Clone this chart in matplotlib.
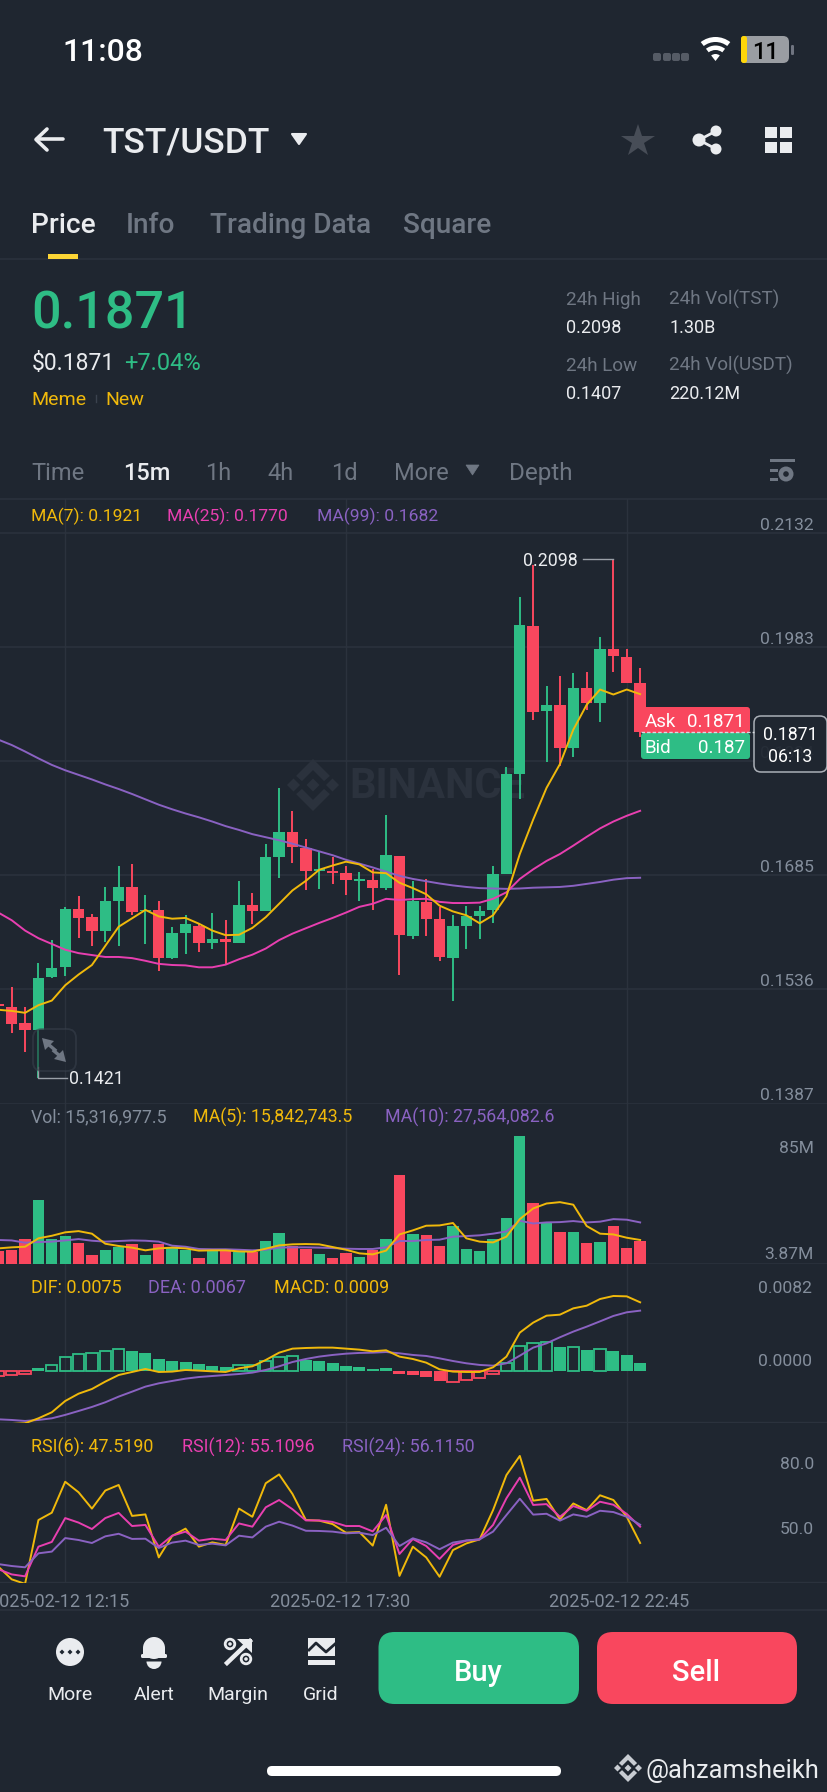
import matplotlib
matplotlib.use('Agg')
import matplotlib.pyplot as plt
from matplotlib.patches import FancyBboxPatch, Rectangle, Circle, Polygon, Wedge, Ellipse
import numpy as np

# candles, first one is cut by the left edge
candle_open = [.15170, .15130, .14920, .14835, .15520, .15650, .16415, .16305, .16120, .16520,
               .16705, .16390, .16405, .15775, .16100, .16195, .15970, .16015, .15970, .16465,
               .16380, .17090, .17415, .17215, .16910, .16905, .16885, .16780, .16785, .16690,
               .17105, .16065, .16505, .16275, .15775, .16195, .16315, .16400, .16870, .18180,
               .20115, .18995, .19080, .18510, .19295, .19100, .19815, .19705, .19365]
candle_close = [.15140, .14915, .14835, .15515, .15635, .16415, .16300, .16120, .16515, .16705,
                .16370, .16405, .15775, .16095, .16215, .15970, .16015, .15980, .16465, .16390,
                .17085, .17415, .17220, .16910, .16935, .16885, .16790, .16805, .16690, .17115,
                .16070, .16515, .16280, .15790, .16195, .16315, .16385, .16870, .18180, .20120,
                .18985, .19080, .18520, .19295, .19100, .19815, .19715, .19365, .18720]
candle_high = [.15180, .15395, .15130, .15705, .16005, .16435, .16580, .16345, .16700, .16970,
               .17000, .16590, .16515, .16175, .16330, .16215, .16355, .16265, .16775, .16615,
               .17255, .17995, .17690, .17325, .17155, .17095, .16970, .16895, .16930, .17645,
               .17105, .16775, .16805, .16440, .16330, .16445, .16445, .16980, .18265, .20495,
               .20905, .19320, .19455, .19490, .19505, .19965, .20980, .19805, .19555]
candle_low = [.15130, .14795, .14545, .14205, .15505, .15540, .16035, .15930, .15980, .15930,
              .16335, .15950, .15605, .15755, .15825, .15855, .15895, .15690, .15970, .16215,
              .16380, .16820, .17015, .16665, .16675, .16740, .16600, .16515, .16405, .16665,
              .15555, .16025, .16065, .15730, .15205, .15895, .16020, .16230, .16870, .17855,
              .18880, .18330, .18280, .18400, .19015, .18860, .19505, .19365, .18665]

ma7 = [.15095, .15080, .15055, .15155, .15215, .15415, .15555, .15680, .15930, .16180,
       .16290, .16400, .16315, .16285, .16295, .16220, .16130, .16070, .16075, .16165,
       .16305, .16480, .16655, .16780, .16925, .16980, .17030, .16995, .16890, .16880,
       .16755, .16685, .16605, .16455, .16380, .16330, .16225, .16330, .16580, .17130,
       .17580, .17995, .18305, .18755, .19080, .19280, .19215, .19280, .19220]
ma25 = [.16365, .16265, .16130, .16030, .15955, .15880, .15835, .15810, .15785, .15785,
        .15770, .15735, .15695, .15680, .15675, .15650, .15650, .15685, .15755, .15815,
        .15895, .16005, .16090, .16160, .16230, .16295, .16365, .16440, .16480, .16545,
        .16530, .16540, .16545, .16505, .16490, .16490, .16495, .16545, .16630, .16805,
        .16930, .17040, .17130, .17240, .17355, .17465, .17555, .17630, .17695]
ma99 = [.18625, .18555, .18470, .18380, .18295, .18225, .18165, .18105, .18040, .17980,
        .17915, .17845, .17775, .17715, .17660, .17610, .17555, .17495, .17445, .17390,
        .17350, .17310, .17265, .17215, .17165, .17115, .17055, .17005, .16955, .16900,
        .16845, .16805, .16775, .16745, .16720, .16700, .16685, .16680, .16675, .16680,
        .16690, .16695, .16700, .16715, .16740, .16765, .16795, .16815, .16820]

# volume in millions
volume = [8.6, 9.1, 16.6, 42.6, 16.8, 18.6, 14.2, 6.2, 9.1, 11.3, 13.1, 6.0, 13.1, 10.4, 9.5, 4.0,
          8.6, 8.4, 7.8, 7.8, 15.1, 20.4, 12.0, 10.2, 6.4, 4.0, 7.1, 4.7, 9.3, 16.4, 59.6, 20.0,
          19.5, 12.0, 25.3, 9.8, 8.4, 16.4, 30.8, 85.1, 40.6, 27.5, 21.5, 21.1, 14.0, 14.4, 25.3,
          10.4, 15.3]
vol_ma5 = [10.4, 11.1, 11.5, 17.1, 18.8, 21.1, 21.9, 20.2, 13.5, 12.0, 10.9, 9.1, 10.4, 10.9, 10.4,
           8.9, 9.1, 9.1, 8.4, 8.2, 10.2, 12.4, 13.1, 13.3, 13.1, 11.3, 9.5, 7.1, 6.4, 8.9, 19.7,
           22.4, 25.5, 25.7, 27.3, 17.1, 14.9, 14.4, 18.2, 29.9, 37.0, 40.3, 41.2, 39.5, 25.3, 20.2,
           19.7, 17.5, 16.0]
vol_ma10 = [16.0, 15.7, 14.2, 14.6, 14.9, 15.7, 16.6, 15.5, 14.9, 15.3, 15.7, 15.5, 14.9, 12.2, 11.5,
            10.0, 9.8, 9.8, 9.5, 9.1, 9.5, 10.9, 11.1, 11.1, 10.9, 10.6, 10.2, 10.0, 10.0, 11.1, 15.3,
            15.3, 16.0, 16.2, 18.2, 18.6, 19.1, 20.2, 21.7, 28.8, 27.0, 27.7, 27.9, 28.6, 27.7, 28.2,
            29.9, 29.5, 27.7]

macd_hist = [-.00055, -.00044, -.00036, .00029, .00069, .00153, .00189, .00197, .00218, .00240,
             .00215, .00193, .00135, .00113, .00098, .00073, .00055, .00040, .00062, .00069,
             .00113, .00149, .00160, .00124, .00109, .00084, .00058, .00040, .00018, .00033,
             -.00036, -.00047, -.00069, -.00109, -.00116, -.00098, -.00080, -.00036, .00087, .00273,
             .00302, .00313, .00258, .00266, .00229, .00244, .00222, .00175, .00084]
macd_hollow = [1, 1, 1, 0, 1, 1, 1, 1, 1, 1, 0, 0, 0, 0, 0, 0, 0, 0, 1, 1, 1, 1, 1, 0, 0, 0, 0, 0, 0, 0,
               0, 0, 0, 0, 1, 1, 1, 1, 1, 1, 1, 1, 0, 1, 0, 1, 0, 0, 0]
dif = [-.00579, -.00579, -.00571, -.00517, -.00451, -.00328, -.00248, -.00197, -.00116, -.00044,
       -.00011, .00022, -.00011, -.00007, .00011, .00004, -.00004, -.00011, .00029, .00051,
       .00120, .00200, .00244, .00251, .00255, .00255, .00244, .00233, .00215, .00226,
       .00157, .00131, .00091, .00018, -.00007, -.00011, -.00011, .00040, .00157, .00419,
       .00528, .00604, .00615, .00684, .00713, .00786, .00819, .00815, .00750]
dea = [-.00528, -.00535, -.00546, -.00535, -.00517, -.00480, -.00437, -.00393, -.00342, -.00280,
       -.00226, -.00171, -.00135, -.00109, -.00084, -.00066, -.00055, -.00044, -.00033, -.00018,
       .00011, .00051, .00098, .00131, .00157, .00175, .00189, .00197, .00200, .00207,
       .00193, .00175, .00164, .00138, .00109, .00084, .00066, .00058, .00084, .00167,
       .00255, .00302, .00368, .00430, .00484, .00542, .00601, .00641, .00659]

rsi6 = [36.5, 30.6, 28.5, 58.2, 61.6, 76.0, 71.1, 63.5, 71.9, 74.5, 60.1, 60.8, 40.8, 50.8, 54.2, 45.8,
        47.8, 46.6, 63.5, 59.7, 75.3, 79.4, 70.3, 58.2, 57.9, 56.3, 52.3, 52.6, 46.3, 65.3, 32.2, 45.8,
        40.8, 31.8, 44.2, 47.3, 49.2, 62.8, 79.1, 88.0, 67.2, 68.0, 58.5, 65.9, 62.8, 69.7, 67.5, 59.7, 47.5]
rsi12 = [35.3, 32.9, 32.0, 45.8, 48.0, 59.1, 57.0, 54.0, 59.1, 61.5, 55.4, 55.9, 45.8, 50.9, 52.8, 48.6,
         49.5, 48.9, 56.6, 55.1, 64.1, 67.5, 63.2, 58.0, 58.0, 57.3, 55.4, 55.4, 52.9, 60.5, 42.4, 49.4,
         46.1, 40.1, 46.6, 48.6, 49.2, 55.9, 68.3, 77.9, 65.2, 65.6, 59.7, 64.7, 62.5, 66.7, 65.3, 61.0, 55.1]
rsi24 = [37.7, 36.8, 36.2, 42.7, 43.5, 49.8, 48.9, 47.5, 50.6, 51.8, 49.4, 49.5, 45.2, 47.7, 48.6, 46.6,
         47.2, 46.4, 50.9, 50.1, 55.1, 57.4, 55.6, 53.2, 53.1, 52.8, 52.0, 52.3, 51.2, 54.6, 46.1, 49.7,
         47.8, 44.6, 47.7, 48.7, 49.2, 52.8, 60.5, 68.1, 60.7, 61.1, 57.9, 60.8, 59.7, 62.5, 61.9, 59.7, 56.0]

price_ticks = [.2132, .1983, .1834, .1685, .1536, .1387]
date_labels = ['2025-02-12 12:15', '2025-02-12 17:30', '2025-02-12 22:45']
date_candles = [4, 25, 46]

BG = '#1F2630'
GRID = '#2B323D'
GREEN = '#2EBD85'
RED = '#F9475E'
YELLOW = '#F0B90B'
PINK = '#E83FB0'
PURPLE = '#8A62C2'
GREY = '#848E9C'
DIM = '#6F7783'
LIGHT = '#EAECEF'
LW = 1.4

plt.rcParams['font.family'] = ['Roboto', 'DejaVu Sans']

W, H = 828, 1792
fig = plt.figure(figsize=(W / 100, H / 100), dpi=100, facecolor=BG)


def pixel_axes(z):
    a = fig.add_axes([0, 0, 1, 1], zorder=z)
    a.set_xlim(0, W)
    a.set_ylim(H, 0)
    a.axis('off')
    a.patch.set_alpha(0)
    return a


def pane(top, bottom, ylim):
    a = fig.add_axes([0, 1 - bottom / H, 1, (bottom - top) / H], zorder=1)
    a.patch.set_alpha(0)
    a.set_xlim(-0.875, 61.05)
    a.set_ylim(*ylim)
    for s in a.spines.values():
        s.set_visible(False)
    a.set_xticks([])
    a.set_yticks([])
    for c in date_candles:
        a.axvline(c, color=GRID, lw=1, zorder=0)
    return a


under = pixel_axes(0)
over = pixel_axes(2)


def txt(x, y, s, size, color, ha='left', weight='normal', a=None):
    # text bbox centre sits a little above the reference glyph centre
    if ha == 'left':
        x = x - 1.5
    (a or over).text(x, y + 0.1 * size + 0.5, s, fontsize=size, color=color, ha=ha, va='center', fontweight=weight)


def rbox(x0, y0, x1, y1, r, a=None, **kw):
    p = FancyBboxPatch((x0 + r, y0 + r), x1 - x0 - 2 * r, y1 - y0 - 2 * r,
                       boxstyle='round,pad=%f,rounding_size=%f' % (r, r), **kw)
    (a or over).add_patch(p)


def binance_logo(a, cx, cy, s, color):
    # s is half the width of the whole logo
    u = s / 4.0
    a.add_patch(Polygon([(cx - u, cy), (cx, cy - u), (cx + u, cy), (cx, cy + u)], color=color, lw=0))
    a.add_patch(Polygon([(cx - 4 * u, cy), (cx - 3 * u, cy - u), (cx - 2 * u, cy), (cx - 3 * u, cy + u)], color=color, lw=0))
    a.add_patch(Polygon([(cx + 4 * u, cy), (cx + 3 * u, cy - u), (cx + 2 * u, cy), (cx + 3 * u, cy + u)], color=color, lw=0))
    for d in (-1, 1):
        a.add_patch(Polygon([(cx, cy + d * 4 * u), (cx + 2.6 * u, cy + d * 1.4 * u), (cx + 1.7 * u, cy + d * 0.6 * u),
                             (cx, cy + d * 2.3 * u), (cx - 1.7 * u, cy + d * 0.6 * u), (cx - 2.6 * u, cy + d * 1.4 * u)],
                            color=color, lw=0))


x = np.arange(-1, 48)

# watermark sits under the candles
binance_logo(under, 313, 785, 26, GRID)
under.text(349, 786, 'BINANCE', fontsize=30, color=GRID, fontweight='bold', va='center')

# ---- price pane
ax = pane(499, 1103.5, (.1387, .2177))
for p in price_ticks:
    ax.axhline(p, color=GRID, lw=1.2, zorder=0)
    ax.annotate('%.4f' % p, xy=(814 / W, p), xycoords=ax.get_yaxis_transform(), xytext=(0, 8),
                textcoords='offset pixels', ha='right', va='center', fontsize=12.6, color=GREY)
colors = [GREEN if c >= o else RED for o, c in zip(candle_open, candle_close)]
ax.vlines(x, candle_low, candle_high, colors=colors, lw=1.4, zorder=2)
ax.bar(x, np.abs(np.array(candle_close) - np.array(candle_open)), bottom=np.minimum(candle_open, candle_close),
       width=0.85, color=colors, zorder=2)
ax.plot(x, ma99, color=PURPLE, lw=LW, zorder=3)
ax.plot(x, ma25, color=PINK, lw=LW, zorder=3)
ax.plot(x, ma7, color=YELLOW, lw=LW, zorder=3)
# high / low callouts
ax.plot([42.75, 45], [.2098, .2098], color='#9AA0A8', lw=1, zorder=4)
ax.text(42.35, .2096, '0.2098', color=LIGHT, fontsize=12.8, ha='right', va='center', zorder=4)
ax.plot([2, 2, 4.14], [.1435, .14205, .14205], color='#9AA0A8', lw=1, zorder=4)
ax.text(4.28, .14185, '0.1421', color=LIGHT, fontsize=12.8, ha='left', va='center', zorder=4)

# ---- volume
vax = pane(1103.5, 1264, (0, 106.9))
vax.axhline(0, color=GRID, lw=1.2, zorder=0)
vax.bar(x, volume, width=0.85, color=colors, zorder=2)
vax.plot(x, vol_ma10, color=PURPLE, lw=LW, zorder=3)
vax.plot(x, vol_ma5, color=YELLOW, lw=LW, zorder=3)

# ---- macd
max_ = pane(1264, 1423.3, (-.005715, .011684))
max_.axhline(-.005715, color=GRID, lw=2.4, zorder=0)
for xi, h, hollow in zip(x, macd_hist, macd_hollow):
    c = GREEN if h > 0 else RED
    if hollow:
        max_.bar(xi, h, width=0.85, facecolor='none', edgecolor=c, lw=1.3, zorder=2)
    else:
        max_.bar(xi, h, width=0.9, color=c, zorder=2)
max_.plot(x, dea, color=PURPLE, lw=LW, zorder=3)
max_.plot(x, dif, color=YELLOW, lw=LW, zorder=3)

# ---- rsi
rax = pane(1423.3, 1583.3, (28.76, 103.18))
rax.axhline(28.76, color=GRID, lw=2.4, zorder=0)
rax.plot(x, rsi6, color=YELLOW, lw=LW, zorder=3)
rax.plot(x, rsi12, color=PINK, lw=LW, zorder=3)
rax.plot(x, rsi24, color=PURPLE, lw=LW, zorder=3)

under.axhline(1610, color=GRID, lw=1.2)
under.axhline(499, color=GRID, lw=1.2)
under.axhline(259.5, color=GRID, lw=1.2)

# pane legends
txt(32.5, 515, 'MA(7): 0.1921', 12.6, YELLOW)
txt(168.5, 515, 'MA(25): 0.1770', 12.6, PINK)
txt(318.5, 515, 'MA(99): 0.1682', 12.6, PURPLE)
txt(32.5, 1116, 'Vol: 15,316,977.5', 12.8, GREY)
txt(194.5, 1116, 'MA(5): 15,842,743.5', 12.8, YELLOW)
txt(386.5, 1116, 'MA(10): 27,564,082.6', 12.8, PURPLE)
txt(32.5, 1286, 'DIF: 0.0075', 13, YELLOW)
txt(149.5, 1286, 'DEA: 0.0067', 13, PURPLE)
txt(275.5, 1286, 'MACD: 0.0009', 13, YELLOW)
txt(32.5, 1446, 'RSI(6): 47.5190', 12.9, YELLOW)
txt(183.5, 1446, 'RSI(12): 55.1096', 12.9, PINK)
txt(343.5, 1446, 'RSI(24): 56.1150', 12.9, PURPLE)

# right side labels of the lower panes
txt(814, 1147, '85M', 12.6, GREY, ha='right')
txt(814, 1253, '3.87M', 12.6, GREY, ha='right')
txt(812, 1287, '0.0082', 12.6, GREY, ha='right')
txt(812, 1360, '0.0000', 12.6, GREY, ha='right')
txt(814, 1463, '80.0', 12.6, GREY, ha='right')
txt(814, 1528, '50.0', 12.6, GREY, ha='right')
for lab, cx in zip(date_labels, [59.5, 340, 619]):
    txt(cx, 1600, lab, 13, GREY, ha='center')

# ask / bid tags and countdown
rbox(641, 707, 750, 733, 3, color=RED, lw=0)
rbox(641, 733, 750, 759, 3, color=GREEN, lw=0)
over.plot([641, 754], [732.5, 732.5], color='#D8DCE0', lw=1, ls=(0, (2.5, 1.5)))
txt(646, 720.5, 'Ask', 13.5, 'white')
txt(745, 720.5, '0.1871', 13.5, 'white', ha='right')
txt(646, 746.5, 'Bid', 13.5, 'white')
txt(745, 746.5, '0.187', 13.5, 'white', ha='right')
rbox(754, 716, 827, 772, 7, facecolor=BG, edgecolor='#B5BAC1', lw=1.1, alpha=0.93)
txt(790, 733, '0.1871', 12.8, 'white', ha='center')
txt(790, 755, '06:13', 12.8, 'white', ha='center')

# expand button over the chart
rbox(33, 1029, 76, 1071, 9, facecolor=BG, edgecolor='#3A424E', lw=1.3, alpha=0.55)
over.add_patch(Polygon([(42, 1038), (54, 1041), (45, 1050)], color=DIM, lw=0))
over.plot([48, 55], [1044, 1050], color=DIM, lw=2.4)
over.add_patch(Polygon([(66, 1062), (54, 1059), (63, 1050)], color=DIM, lw=0))
over.plot([60, 54], [1056, 1051], color=DIM, lw=2.4)

# ---- status bar
txt(64, 50, '11:08', 23, 'white', weight='medium')
for dx in (653, 663, 672, 681):
    rbox(dx, 53, dx + 8, 61, 2, color='#555B65', lw=0)
for r, w in ((24, 5), (15.5, 4.5), (7, 7)):
    over.add_patch(Wedge((715.5, 61), r, 232, 308, width=w, color='white', lw=0))
rbox(741, 36, 789, 63, 6, color='#9A9DA2', lw=0)
rbox(741, 36, 747, 63, 2.5, color='#FFD60A', lw=0)
rbox(791, 45, 794, 55, 1.2, color='#6F7480', lw=0)
txt(766, 50, '11', 17, 'black', ha='center', weight='medium')

# ---- title row
over.plot([37, 63], [139.5, 139.5], color=LIGHT, lw=2.6, solid_capstyle='round')
over.plot([47, 36, 47], [129, 139.5, 150], color=LIGHT, lw=2.6, solid_capstyle='round', solid_joinstyle='round')
txt(104, 140, 'TST/USDT', 25.5, LIGHT, weight='medium')
over.add_patch(Polygon([(292, 134), (306, 134), (299, 144)], color=LIGHT, lw=1.5, joinstyle='round'))
over.plot([638], [141], marker='*', ms=25, color='#474D57', mew=0)
for cx, cy, r in ((716, 131, 5.5), (699, 140, 6.5), (716, 149, 5.5)):
    over.add_patch(Circle((cx, cy), r, color=LIGHT, lw=0))
over.plot([716, 699, 716], [131, 140, 149], color=LIGHT, lw=2)
for sx, sy in ((765, 127), (780, 127), (765, 142), (780, 142)):
    over.add_patch(Rectangle((sx, sy), 12, 11.5, color=LIGHT, lw=0))

# ---- tabs
txt(33, 223, 'Price', 20.2, LIGHT, weight='medium')
txt(127, 223, 'Info', 20.2, DIM, weight='medium')
txt(212, 223, 'Trading Data', 20.2, DIM, weight='medium')
txt(405, 223, 'Square', 20.2, DIM, weight='medium')
over.add_patch(Rectangle((48, 254), 30, 5, color='#FCD535', lw=0))

# ---- ticker block
txt(33, 310, '0.1871', 37.5, GREEN, weight='medium')
txt(33, 361, '$0.1871', 16.5, LIGHT)
txt(126, 361, '+7.04%', 17, GREEN)
txt(33, 398, 'Meme', 14, YELLOW)
txt(107, 398, 'New', 14, YELLOW)
over.plot([96, 96], [395, 402], color='#3A424E', lw=1)
txt(568, 298, '24h High', 13.6, DIM)
txt(568, 326, '0.2098', 13, LIGHT)
txt(671, 298, '24h Vol(TST)', 13.6, DIM)
txt(671, 326, '1.30B', 13, LIGHT)
txt(568, 364, '24h Low', 13.6, DIM)
txt(568, 392, '0.1407', 13, LIGHT)
txt(671, 364, '24h Vol(USDT)', 13.6, DIM)
txt(671, 392, '220.12M', 13, LIGHT)

# ---- interval row
txt(33, 471, 'Time', 17, DIM)
txt(125, 471, '15m', 17, LIGHT, weight='medium')
txt(207, 471, '1h', 17, DIM)
txt(269, 471, '4h', 17, DIM)
txt(333, 471, '1d', 17, DIM)
txt(396, 471, 'More', 17, DIM)
over.add_patch(Polygon([(466, 465), (479, 465), (472.5, 475)], color=DIM, lw=0.5))
txt(511, 471, 'Depth', 17.5, DIM)
over.add_patch(Rectangle((770, 459), 25, 3.5, color=DIM, lw=0))
over.add_patch(Rectangle((770, 469), 8, 3.5, color=DIM, lw=0))
over.add_patch(Rectangle((770, 478), 8, 3.5, color=DIM, lw=0))
over.add_patch(Circle((786, 474), 7.5, color=DIM, lw=0))
over.add_patch(Circle((786, 474), 2.8, color=BG, lw=0))

# ---- bottom bar
for cx, lab in ((70, 'More'), (154, 'Alert'), (238, 'Margin'), (321, 'Grid')):
    txt(cx, 1693, lab, 14, LIGHT, ha='center')
over.add_patch(Circle((70, 1652), 14, color=LIGHT, lw=0))
for dx in (-8, 0, 8):
    over.add_patch(Polygon([(70 + dx - 2.5, 1652), (70 + dx, 1649.5), (70 + dx + 2.5, 1652), (70 + dx, 1654.5)], color=BG, lw=0))
# bell
over.add_patch(Ellipse((154, 1648), 22, 22, color=LIGHT, lw=0))
over.add_patch(Rectangle((143, 1648), 22, 8, color=LIGHT, lw=0))
rbox(141, 1654, 167, 1658, 1.5, color=LIGHT, lw=0)
over.add_patch(Wedge((154, 1661.5), 7.5, 0, 180, color=LIGHT, lw=0))
# margin
over.plot([227, 250], [1663, 1641], color=LIGHT, lw=3.2)
over.add_patch(Polygon([(237, 1639), (252, 1639), (252, 1653)], color=LIGHT, lw=0))
over.add_patch(Circle((230, 1644), 4.8, fill=False, ec=LIGHT, lw=2))
over.add_patch(Circle((230, 1644), 1.8, color=LIGHT, lw=0))
over.add_patch(Circle((246, 1659), 4.8, fill=False, ec=LIGHT, lw=2))
over.add_patch(Circle((246, 1659), 1.8, color=LIGHT, lw=0))
# grid icon
over.add_patch(Rectangle((308, 1638), 27, 18, color=LIGHT, lw=0))
over.plot([309, 316, 326, 335], [1650, 1643, 1652, 1644], color=BG, lw=2)
over.add_patch(Rectangle((308, 1660), 27, 5, color=LIGHT, lw=0))

rbox(378.5, 1632, 579, 1704, 16, color=GREEN, lw=0)
rbox(597, 1632, 797, 1704, 16, color=RED, lw=0)
txt(478, 1670, 'Buy', 21, 'white', ha='center', weight='medium')
txt(696, 1670, 'Sell', 21, 'white', ha='center', weight='medium')

rbox(267, 1766, 561, 1776, 5, color='white', lw=0)
binance_logo(over, 628, 1768, 14, '#C8CCD2')
txt(647, 1769, '@ahzamsheikh', 18.4, LIGHT)

fig.savefig('out.png', dpi=100, facecolor=BG)
